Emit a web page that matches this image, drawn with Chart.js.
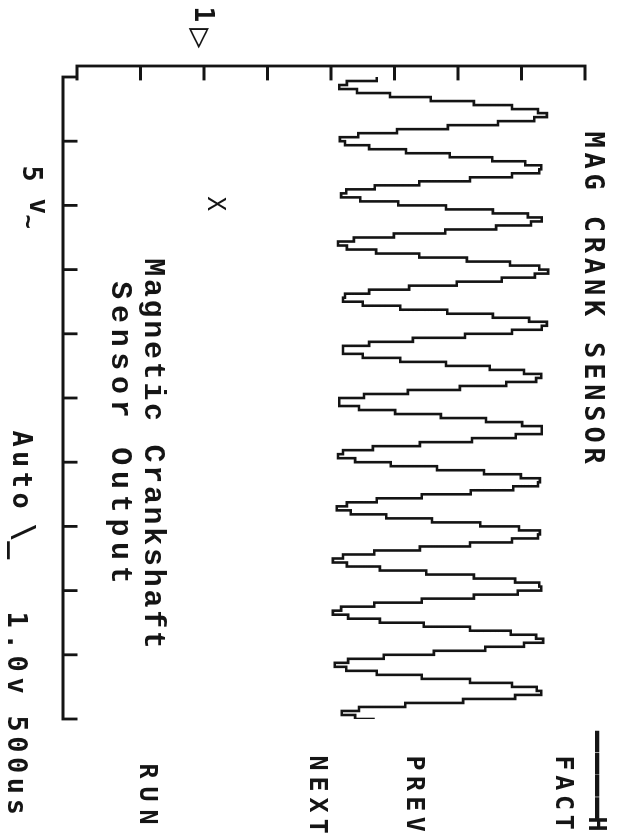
<!DOCTYPE html>
<html lang="en">
<head>
  <meta charset="UTF-8">
  <title>MAG CRANK SENSOR</title>
  <script src="https://cdn.jsdelivr.net/npm/chart.js"></script>
  <style>
    html, body {
      margin: 0;
      padding: 0;
      width: 620px;
      height: 837px;
      overflow: hidden;
      background: #fff;
    }

    /* the scope screen is landscape; the photo shows it turned a quarter clockwise */
    #scope {
      position: absolute;
      left: 0;
      top: 0;
      width: 837px;
      height: 620px;
      transform-origin: 0 0;
      transform: translate(620px, 0) rotate(90deg);
      background: #fff;
    }

    #scope canvas {
      position: absolute;
      left: 0;
      top: 0;
    }

    .lbl {
      position: absolute;
      white-space: pre;
      line-height: 1;
      color: #151515;
    }
  </style>
</head>
<body>

  <div id="scope">
    <canvas id="scopeCanvas" width="837" height="620"></canvas>
  </div>

  <script>
    // time base: 500us/div, 10 divisions
    const timeTicksMs = [0, 0.5, 1, 1.5, 2, 2.5, 3, 3.5, 4, 4.5, 5];
    // channel 1: 1.0v/div, ground marker at 0
    const voltTicks = [-2, -1, 0, 1, 2, 3, 4, 5, 6];
    const sampleStepMs = 0.03125;

    // channel 1 samples (volts)
    const ch1Volts = [
      2.72, 2.25, 2.13, 2.41, 2.93, 3.57, 4.25, 4.85, 5.26, 5.40,
      5.20, 4.63, 3.84, 3.04, 2.43, 2.14, 2.22, 2.60, 3.18, 3.87,
      4.54, 5.06, 5.31, 5.28, 4.85, 4.19, 3.39, 2.69, 2.24, 2.16,
      2.46, 3.06, 3.81, 4.55, 5.10, 5.32, 5.15, 4.60, 3.80, 2.99,
      2.36, 2.11, 2.25, 2.71, 3.39, 4.14, 4.82, 5.28, 5.42, 5.21,
      4.69, 3.98, 3.23, 2.60, 2.22, 2.19, 2.50, 3.09, 3.83, 4.55,
      5.12, 5.40, 5.32, 4.85, 4.11, 3.29, 2.60, 2.19, 2.19, 2.50,
      3.09, 3.81, 4.50, 5.04, 5.31, 5.23, 4.76, 4.03, 3.21, 2.52,
      2.13, 2.13, 2.44, 3.01, 3.73, 4.44, 5.01, 5.32, 5.32, 4.91,
      4.22, 3.40, 2.66, 2.19, 2.11, 2.38, 2.94, 3.67, 4.41, 4.99,
      5.29, 5.26, 4.87, 4.20, 3.43, 2.72, 2.25, 2.09, 2.31, 2.87,
      3.59, 4.35, 4.96, 5.29, 5.26, 4.85, 4.19, 3.40, 2.68, 2.19,
      2.03, 2.25, 2.77, 3.50, 4.25, 4.90, 5.28, 5.31, 4.94, 4.25,
      3.43, 2.68, 2.16, 2.03, 2.27, 2.77, 3.46, 4.19, 4.83, 5.23,
      5.34, 5.04, 4.43, 3.62, 2.83, 2.27, 2.06, 2.24, 2.72, 3.43,
      4.19, 4.85, 5.24, 5.31, 4.90, 4.08, 3.17, 2.44, 2.17, 2.38,
      2.69
    ];

    const INK = '#141414';

    // axes of the scope: left line set a bit off the plot, bottom line below it, ticks pointing inwards
    const scopeAxes = {
      id: 'scopeAxes',
      afterDatasetsDraw(chart) {
        const { ctx, scales: { x, y } } = chart;
        const xStart = x.getPixelForValue(timeTicksMs[0]);
        const xEnd = x.getPixelForValue(timeTicksMs[timeTicksMs.length - 1]);
        const yTop = y.getPixelForValue(voltTicks[voltTicks.length - 1]);
        const yBot = y.getPixelForValue(voltTicks[0]);
        const leftLine = xStart - 11;
        const bottomLine = yBot + 14;

        ctx.save();
        ctx.strokeStyle = INK;
        ctx.lineWidth = 2.8;
        ctx.lineCap = 'square';
        ctx.beginPath();
        ctx.moveTo(leftLine, yTop);
        ctx.lineTo(leftLine, yBot);
        ctx.lineTo(xStart, yBot);
        ctx.lineTo(xStart, bottomLine);
        ctx.lineTo(xEnd, bottomLine);
        voltTicks.forEach(v => {
          const py = y.getPixelForValue(v);
          ctx.moveTo(leftLine, py);
          ctx.lineTo(leftLine + 13, py);
        });
        timeTicksMs.forEach(t => {
          const px = x.getPixelForValue(t);
          ctx.moveTo(px, bottomLine);
          ctx.lineTo(px, bottomLine - 13);
        });
        ctx.stroke();
        ctx.restore();
      }
    };

    const ctx = document.getElementById('scopeCanvas').getContext('2d');

    new Chart(ctx, {
      type: 'line',
      data: {
        datasets: [{
          label: 'CH1',
          data: ch1Volts.map((v, i) => ({ x: i * sampleStepMs, y: v })),
          borderColor: INK,
          borderWidth: 2.6,
          pointRadius: 0,
          stepped: true,
          fill: false,
          tension: 0
        }]
      },
      options: {
        responsive: false,
        animation: false,
        devicePixelRatio: 1,
        layout: { padding: { left: 77, right: 118, top: 35, bottom: 77 } },
        plugins: {
          legend: { display: false },
          tooltip: { enabled: false }
        },
        scales: {
          x: { type: 'linear', min: 0, max: 5, display: false },
          y: { type: 'linear', min: -2, max: 6, display: false }
        }
      },
      plugins: [scopeAxes]
    });

    // screen text, placed in screen coordinates (before the quarter turn)
    const scope = document.getElementById('scope');
    const MONO = "'DejaVu Sans Mono', monospace";
    const COURIER = "'Liberation Mono', monospace";

    function addLabel(text, u0, u1, vc, size, family, weight) {
      const d = document.createElement('div');
      d.className = 'lbl';
      d.textContent = text;
      d.style.font = `${weight} ${size}px ${family}`;
      d.style.top = (vc - 0.48 * size) + 'px';
      scope.appendChild(d);
      const n = [...text].length;
      const w = d.offsetWidth;
      const adv = w / n;
      d.style.left = (u0 - 0.1 * adv) + 'px';
      if (n > 1 && u1) {
        d.style.letterSpacing = ((u1 - u0) - w + 0.2 * adv) / (n - 1) + 'px';
      }
    }

    addLabel('MAG CRANK SENSOR', 133, 462, 23, 27, MONO, 'bold');
    addLabel('————', 733, 817, 17, 36, MONO, 'bold');
    addLabel('H', 818, 0, 20, 25, MONO, 'bold');
    addLabel('FACT', 757, 828, 53, 25, MONO, 'bold');
    addLabel('PREV', 757, 830, 202, 25, MONO, 'bold');
    addLabel('NEXT', 757, 832, 299, 25, MONO, 'bold');
    addLabel('RUN', 765, 823, 469, 25, MONO, 'bold');

    addLabel('Magnetic Crankshaft', 260, 647, 464, 30, COURIER, 'bold');
    addLabel('Sensor Output', 283, 582, 497, 30, COURIER, 'bold');

    addLabel('1', 8, 0, 413, 26, MONO, 'bold');
    addLabel('▷', 30, 0, 414, 34, MONO, 'bold');
    addLabel('X', 198, 0, 402, 24, MONO, 'normal');

    addLabel('5', 167, 0, 585, 27, MONO, 'bold');
    addLabel('v', 200, 0, 578, 26, MONO, 'bold');
    addLabel('~', 216, 0, 590, 24, MONO, 'bold');
    addLabel('Auto', 432, 507, 595, 27, MONO, 'bold');
    addLabel('\\_', 525, 0, 592, 30, MONO, 'bold');
    addLabel('1.0v', 613, 692, 600, 27, MONO, 'bold');
    addLabel('500us', 717, 813, 600, 27, MONO, 'bold');
  </script>

</body>
</html>
